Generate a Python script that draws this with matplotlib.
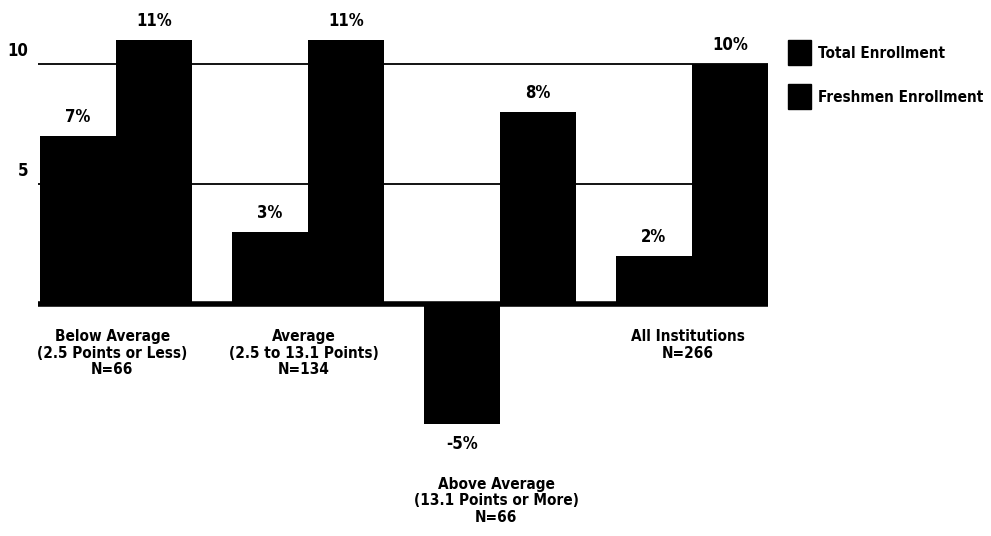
import matplotlib.pyplot as plt
from matplotlib.patches import Rectangle

# enrollment change by group, percent
groups = ['Below Average\n(2.5 Points or Less)\nN=66',
          'Average\n(2.5 to 13.1 Points)\nN=134',
          'Above Average\n(13.1 Points or More)\nN=66',
          'All Institutions\nN=266']
total = [7, 3, -5, 2]
freshmen = [11, 11, 8, 10]
grid_vals = [5, 10]
series_names = ['Total Enrollment', 'Freshmen Enrollment']

plt.rcParams['font.family'] = ['DejaVu Sans']
plt.rcParams['font.stretch'] = 'condensed'
plt.rcParams['font.weight'] = 'bold'

W, H = 991, 536
fig = plt.figure(figsize=(W / 100, H / 100), dpi=100)
# axes laid out so one group step is 192 px and one unit is 24 px
ax = fig.add_axes([38 / W, 0, 730 / W, 1])
ax.set_xlim(-0.406, 3.396)
ax.set_ylim(-232 / 24, 304 / 24)
ax.axis('off')

w = 0.396
x = list(range(len(groups)))
xt = [i - w / 2 for i in x]
xf = [i + w / 2 for i in x]

ax.bar(xt, total, width=w, color='black', zorder=2)
ax.bar(xf, freshmen, width=w, color='black', zorder=2)

# reference lines and base line
for v in grid_vals:
    ax.axhline(v, color='black', lw=1.3, zorder=1)
    ax.text(-0.455, v + 0.15, str(v), ha='right', va='bottom', fontsize=12)
ax.axhline(0, color='black', lw=4, zorder=3)

# value labels
for xs, vals in [(xt, total), (xf, freshmen)]:
    for xi, v in zip(xs, vals):
        if v >= 0:
            ax.annotate(f'{v}%', (xi, v), xytext=(0, 7), textcoords='offset points',
                        ha='center', va='bottom', fontsize=12)
        else:
            ax.annotate(f'{v}%', (xi, v), xytext=(0, -8), textcoords='offset points',
                        ha='center', va='top', fontsize=12)

# group names under the bars
for i, name in enumerate(groups):
    low = min(total[i], freshmen[i], 0)
    y = -1.05 if low >= 0 else low - 2.2
    ax.text(i - 0.02, y, name, ha='center', va='top', fontsize=11,
            linespacing=1.12, multialignment='center')

# legend: black squares with labels, placed in figure pixels
for k, name in enumerate(series_names):
    top = 40 + 44 * k
    fig.add_artist(Rectangle((788 / W, 1 - (top + 25) / H), 23 / W, 25 / H,
                             transform=fig.transFigure, color='black'))
    fig.text(818 / W, 1 - (top + 13) / H, name, ha='left', va='center', fontsize=11)

fig.savefig('out.png', dpi=100)
